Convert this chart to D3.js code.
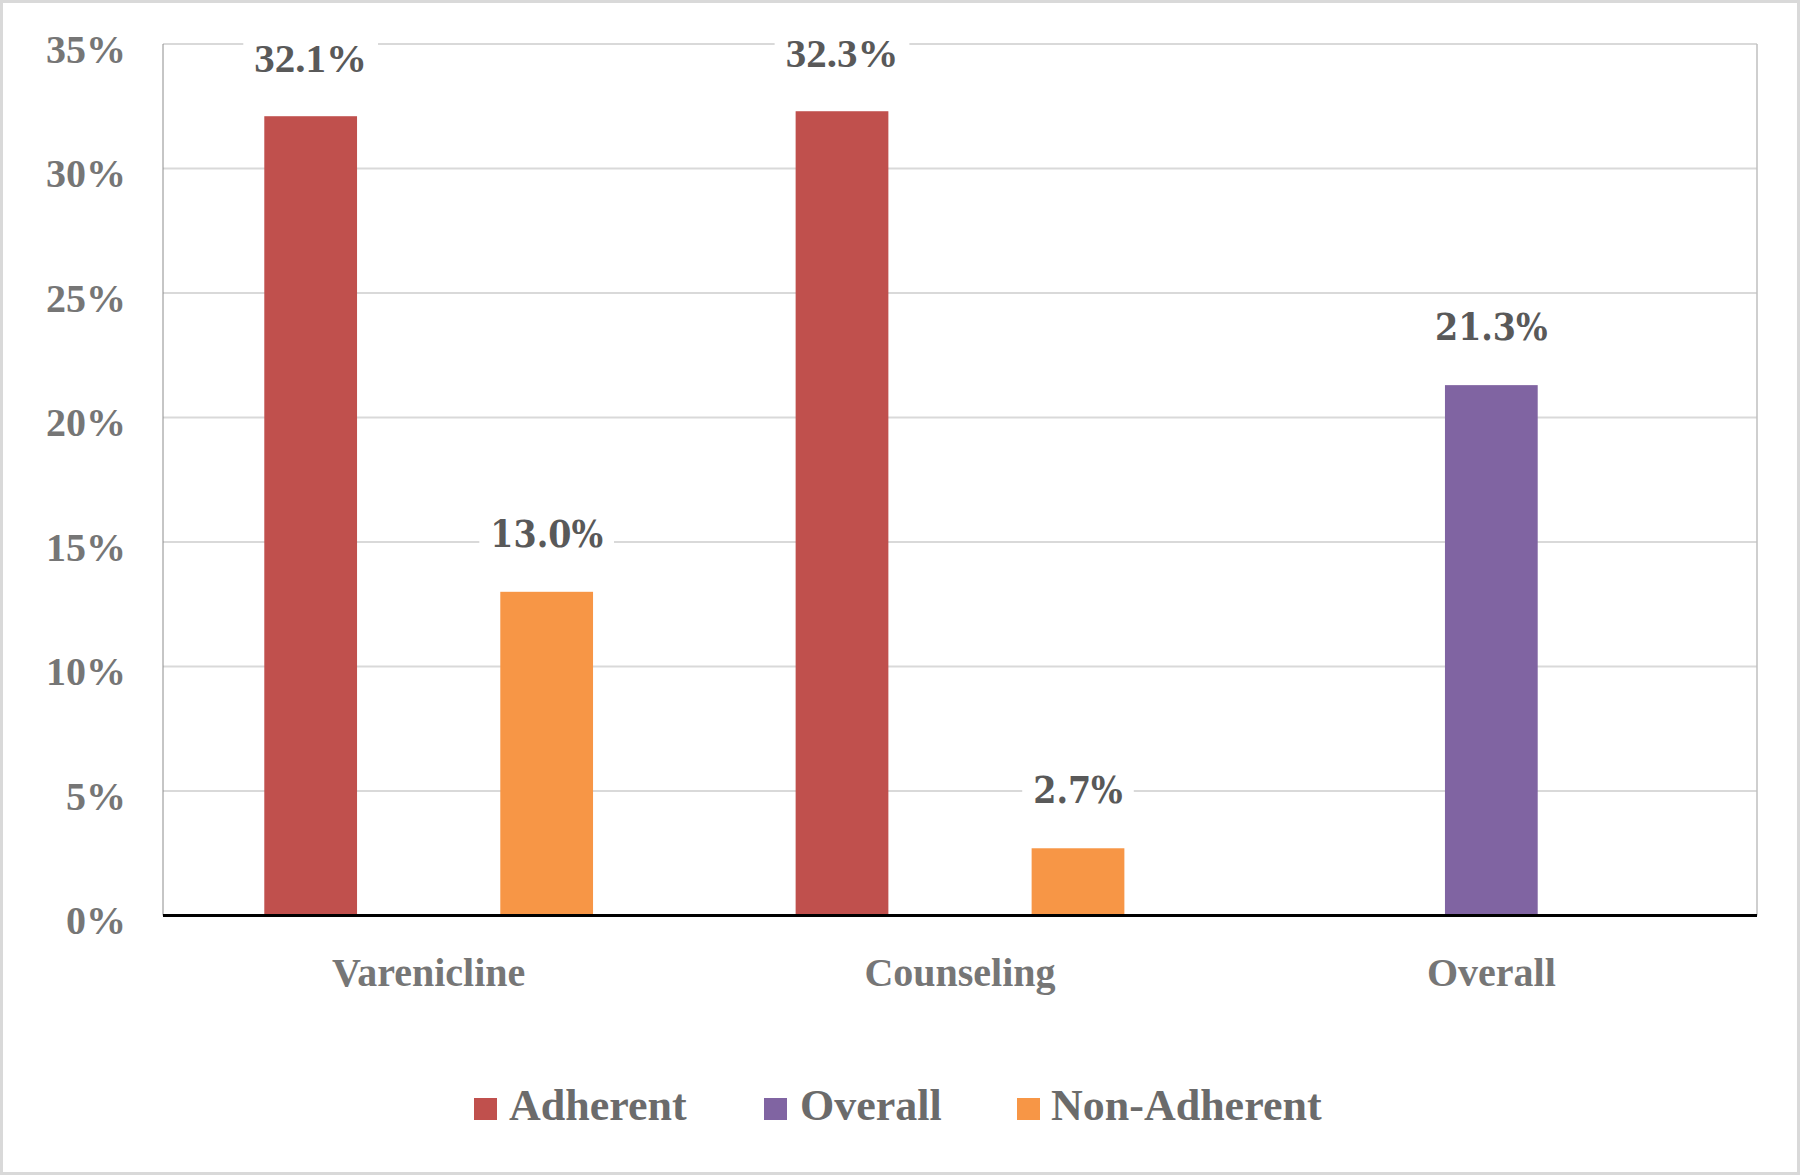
<!DOCTYPE html>
<html><head><meta charset="utf-8">
<script src="https://cdn.jsdelivr.net/npm/d3@7"></script>
<style>html,body{margin:0;padding:0;background:#fff;}</style>
</head><body>
<svg id="chart" width="1800" height="1175"></svg>
<script>
const categories = ["Varenicline", "Counseling", "Overall"];
const seriesNames = ["Adherent", "Overall", "Non-Adherent"];
const adherent = [32.1, 32.3, null];
const overall = [null, null, 21.3];
const nonAdherent = [13.0, 2.7, null];
const yTicks = [0, 5, 10, 15, 20, 25, 30, 35];

const seriesValues = {"Adherent": adherent, "Overall": overall, "Non-Adherent": nonAdherent};
const colors = {"Adherent": "#c0504d", "Overall": "#8064a2", "Non-Adherent": "#f79646"};

const svg = d3.select("#chart");
const plotL = 163, plotR = 1757, plotT = 44, plotB = 915.5;

svg.append("rect").attr("x", 1.5).attr("y", 1.5).attr("width", 1797).attr("height", 1172)
  .attr("fill", "#fff").attr("stroke", "#d9d9d9").attr("stroke-width", 3);

const x0 = d3.scaleBand().domain(categories).range([plotL, plotR]).padding(0);
const x1 = d3.scaleBand().domain(seriesNames).range([-177, 177]).paddingInner(0.214).paddingOuter(0.107);
const y = d3.scaleLinear().domain([0, 35]).range([plotB, plotT]);

// gridlines
svg.append("g").selectAll("line").data(yTicks.filter(d => d > 0)).join("line")
  .attr("x1", plotL).attr("x2", plotR)
  .attr("y1", d => y(d)).attr("y2", d => y(d))
  .attr("stroke", "#d9d9d9").attr("stroke-width", 2);

// side lines
svg.append("line").attr("x1", plotL).attr("x2", plotL).attr("y1", plotT).attr("y2", plotB)
  .attr("stroke", "#8c8c8c").attr("stroke-width", 1);
svg.append("line").attr("x1", plotR).attr("x2", plotR).attr("y1", plotT).attr("y2", plotB)
  .attr("stroke", "#bfbfbf").attr("stroke-width", 1.5);

// y axis
const yAxis = d3.axisLeft(y).tickValues(yTicks).tickFormat(d => d + "%").tickSize(0).tickPadding(37);
const ya = svg.append("g").attr("transform", `translate(${plotL},0)`).call(yAxis);
ya.select(".domain").remove();
ya.selectAll("text").attr("font-family", "'Liberation Serif', 'Times New Roman', serif")
  .attr("font-weight", "bold").attr("font-size", 40).attr("fill", "#767676").attr("dy", "0.45em");

// bars
const flat = [];
categories.forEach((c, i) => seriesNames.forEach(s => {
  const v = seriesValues[s][i];
  if (v !== null && v !== undefined) flat.push({cat: c, series: s, value: v});
}));

svg.append("g").selectAll("rect").data(flat).join("rect")
  .attr("x", d => x0(d.cat) + x0.bandwidth() / 2 + x1(d.series))
  .attr("width", x1.bandwidth())
  .attr("y", d => y(d.value))
  .attr("height", d => y(0) - y(d.value))
  .attr("fill", d => colors[d.series]);

// x axis line
svg.append("line").attr("x1", plotL).attr("x2", plotR).attr("y1", plotB).attr("y2", plotB)
  .attr("stroke", "#000").attr("stroke-width", 3);

// x axis labels
const xAxis = d3.axisBottom(x0).tickSize(0).tickPadding(42);
const xa = svg.append("g").attr("transform", `translate(0,${plotB})`).call(xAxis);
xa.select(".domain").remove();
xa.selectAll("text").attr("font-family", "'Liberation Serif', 'Times New Roman', serif")
  .attr("font-weight", "bold").attr("font-size", 40).attr("fill", "#767676");

// data labels
const lg = svg.append("g");
flat.forEach(d => {
  const cx = x0(d.cat) + x0.bandwidth() / 2 + x1(d.series) + x1.bandwidth() / 2;
  const cy = y(d.value) - 58;
  const isTimes = d.series === "Adherent";
  const g = lg.append("g");
  const t = g.append("text").attr("x", cx).attr("y", cy).attr("text-anchor", "middle")
    .attr("dominant-baseline", "central")
    .attr("font-family", isTimes ? "'Liberation Serif', serif" : "'DejaVu Serif Condensed', 'DejaVu Serif', serif")
    .style("font-stretch", isTimes ? "normal" : "condensed")
    .attr("font-weight", "bold").attr("font-size", isTimes ? 41 : 37).attr("fill", "#595959")
    .text(d3.format(".1f")(d.value) + "%");
  const bb = t.node().getBBox();
  g.insert("rect", "text").attr("x", bb.x - 11).attr("y", bb.y - 4)
    .attr("width", bb.width + 22).attr("height", bb.height + 8).attr("fill", "#fff");
});

// legend
const legendItems = [
  {name: "Adherent", sx: 474, tx: 509},
  {name: "Overall", sx: 764, tx: 800},
  {name: "Non-Adherent", sx: 1017, tx: 1051}
];
const leg = svg.append("g");
legendItems.forEach(it => {
  leg.append("rect").attr("x", it.sx).attr("y", 1098).attr("width", 23).attr("height", 22)
    .attr("fill", colors[it.name]);
  leg.append("text").attr("x", it.tx).attr("y", 1120)
    .attr("font-family", "'Liberation Serif', 'Times New Roman', serif")
    .attr("font-weight", "bold").attr("font-size", 44).attr("fill", "#6b6b6b").text(it.name);
});
</script>
</body></html>
